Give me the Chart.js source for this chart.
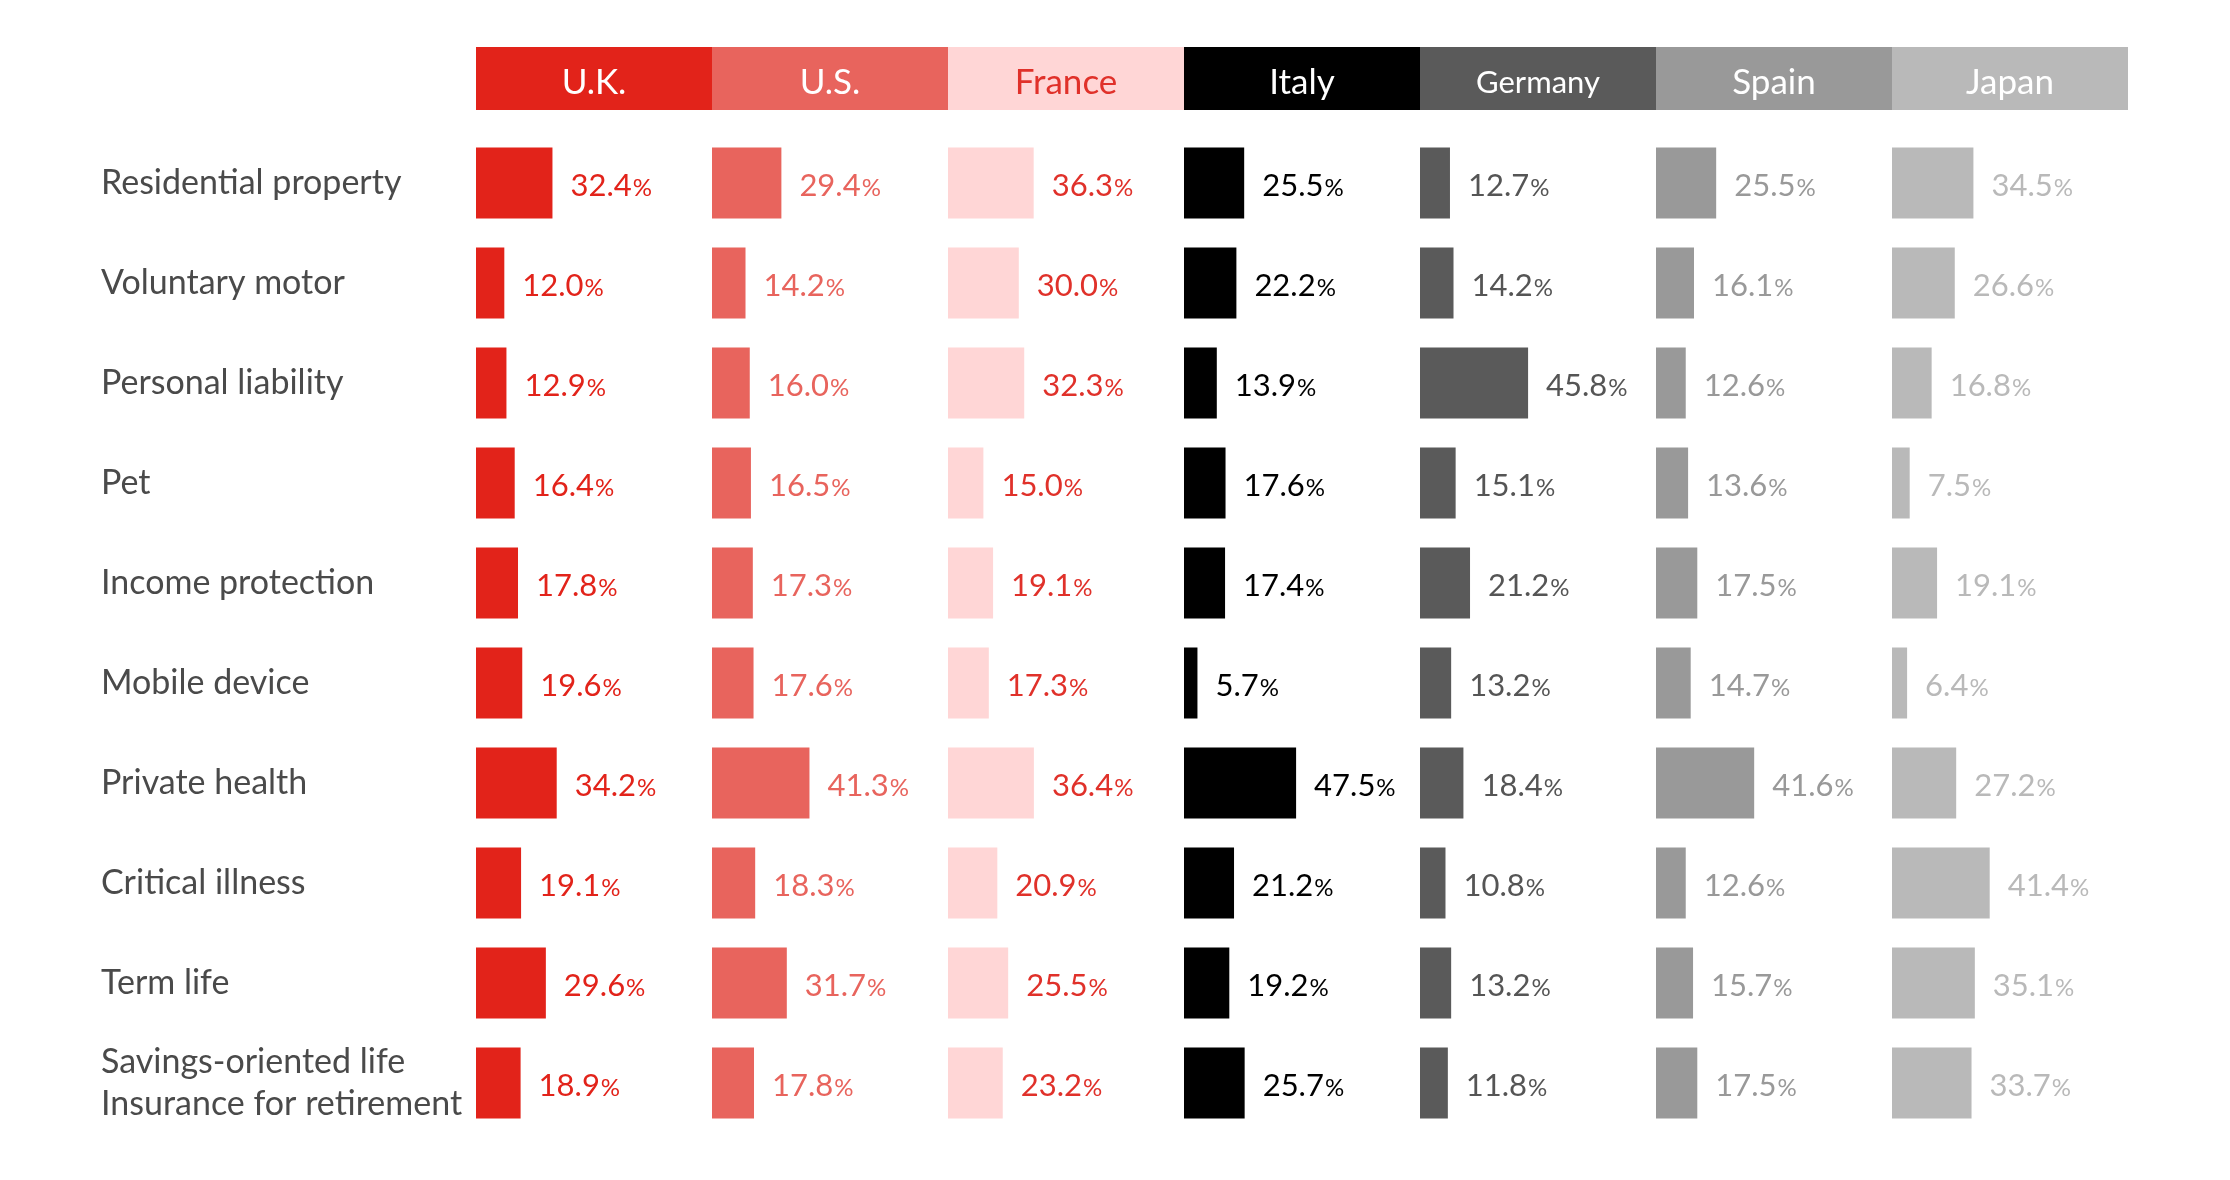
<!DOCTYPE html>
<html>
<head>
<meta charset="utf-8">
<script src="https://cdn.jsdelivr.net/npm/chart.js@4.4.1/dist/chart.umd.min.js"></script>
<style>
  html, body { margin: 0; padding: 0; background: #fff; }
  #wrap { width: 2230px; height: 1180px; }
</style>
</head>
<body>
<div id="wrap"><canvas id="chart" width="2230" height="1180"></canvas></div>
<script>
// categories (rows) and countries (columns)
const categories = [
    'Residential property', 'Voluntary motor', 'Personal liability', 'Pet',
    'Income protection', 'Mobile device', 'Private health', 'Critical illness',
    'Term life', ['Savings-oriented life', 'Insurance for retirement']
];
const countries = ['U.K.', 'U.S.', 'France', 'Italy', 'Germany', 'Spain', 'Japan'];

// values in %, one array per country
const ukValues      = [32.4, 12.0, 12.9, 16.4, 17.8, 19.6, 34.2, 19.1, 29.6, 18.9];
const usValues      = [29.4, 14.2, 16.0, 16.5, 17.3, 17.6, 41.3, 18.3, 31.7, 17.8];
const franceValues  = [36.3, 30.0, 32.3, 15.0, 19.1, 17.3, 36.4, 20.9, 25.5, 23.2];
const italyValues   = [25.5, 22.2, 13.9, 17.6, 17.4, 5.7, 47.5, 21.2, 19.2, 25.7];
const germanyValues = [12.7, 14.2, 45.8, 15.1, 21.2, 13.2, 18.4, 10.8, 13.2, 11.8];
const spainValues   = [25.5, 16.1, 12.6, 13.6, 17.5, 14.7, 41.6, 12.6, 15.7, 17.5];
const japanValues   = [34.5, 26.6, 16.8, 7.5, 19.1, 6.4, 27.2, 41.4, 35.1, 33.7];

const seriesValues = [ukValues, usValues, franceValues, italyValues, germanyValues, spainValues, japanValues];

// styling per column
const barColors   = ['#e2231a', '#e8645d', '#ffd6d6', '#000000', '#5a5a5a', '#999999', '#b9b9b9'];
const labelColors = ['#e2231a', '#e8645d', '#e0312a', '#000000', '#555555', '#999999', '#b9b9b9'];
const headerText  = ['#ffffff', '#ffffff', '#e0312a', '#ffffff', '#ffffff', '#ffffff', '#ffffff'];
const COL = 100; // each column spans 0..100%

const FONT = 'Lato, "Open Sans", sans-serif';

// header band drawn above the chart area, one box per column
const headerPlugin = {
    id: 'headerBand',
    afterDraw(chart) {
        const ctx = chart.ctx;
        const x = chart.scales.x;
        const top = 47, h = 63;
        countries.forEach((name, i) => {
            const x0 = x.getPixelForValue(i * COL);
            const x1 = x.getPixelForValue((i + 1) * COL);
            ctx.save();
            ctx.fillStyle = barColors[i];
            ctx.fillRect(x0, top, x1 - x0, h);
            ctx.fillStyle = headerText[i];
            ctx.font = (name === 'Germany' ? '31px ' : '35px ') + FONT;
            ctx.textAlign = 'center';
            ctx.textBaseline = 'middle';
            ctx.fillText(name, (x0 + x1) / 2, top + h / 2 + 4);
            ctx.restore();
        });
    }
};

// value labels: number + smaller % sign to the right of each bar
const valueLabelPlugin = {
    id: 'valueLabels',
    afterDatasetsDraw(chart) {
        const ctx = chart.ctx;
        chart.data.datasets.forEach((ds, di) => {
            const meta = chart.getDatasetMeta(di);
            meta.data.forEach((bar, idx) => {
                const num = seriesValues[di][idx].toFixed(1);
                const x = bar.x + 18;
                const y = bar.y + 13;
                ctx.save();
                ctx.fillStyle = labelColors[di];
                ctx.textAlign = 'left';
                ctx.textBaseline = 'alphabetic';
                ctx.font = '31px ' + FONT;
                ctx.fillText(num, x, y);
                const w = ctx.measureText(num).width;
                ctx.font = '24px ' + FONT;
                ctx.fillText('%', x + w + 1, y);
                ctx.restore();
            });
        });
    }
};

const ctx = document.getElementById('chart').getContext('2d');
new Chart(ctx, {
    type: 'bar',
    data: {
        labels: categories,
        datasets: seriesValues.map((vals, i) => ({
            label: countries[i],
            data: vals.map(v => [i * COL, i * COL + v]),
            backgroundColor: barColors[i],
            borderWidth: 0,
            borderSkipped: false,
            categoryPercentage: 1,
            barPercentage: 0.71,
            grouped: false
        }))
    },
    options: {
        indexAxis: 'y',
        responsive: false,
        animation: false,
        devicePixelRatio: 1,
        layout: { padding: { left: 101, right: 102, top: 133, bottom: 47 } },
        scales: {
            x: {
                type: 'linear',
                min: 0,
                max: countries.length * COL,
                display: false
            },
            y: {
                grid: { display: false },
                border: { display: false },
                afterFit(scale) { scale.width = 375; },
                ticks: {
                    crossAlign: 'far',
                    color: '#4a4a4a',
                    font: { family: FONT, size: 34, lineHeight: 1.25 }
                }
            }
        },
        plugins: {
            legend: { display: false },
            tooltip: { enabled: false }
        }
    },
    plugins: [headerPlugin, valueLabelPlugin]
});
</script>
</body>
</html>
